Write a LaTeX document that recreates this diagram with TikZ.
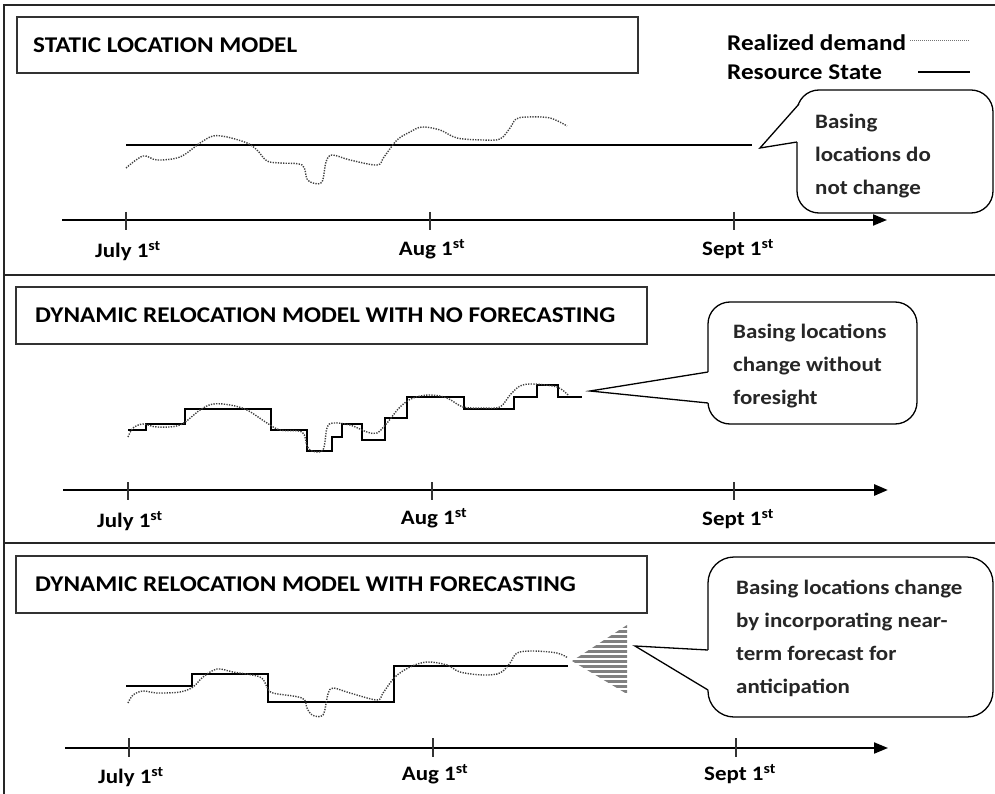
\documentclass[tikz,border=0pt]{standalone}
\usepackage{fontspec}
\setmainfont{Carlito}[FakeStretch=1.12]
\usetikzlibrary{arrows.meta}

\tikzset{
  frameline/.style={line width=1.4pt, black!85},
  titlebox/.style={draw=black!80, line width=1.3pt, fill=white},
  titletext/.style={anchor=west, inner sep=0pt, font=\bfseries\fontsize{22.5}{26}\selectfont},
  timeaxis/.style={line width=2pt, -{Triangle[length=14pt,width=11pt]}},
  timetick/.style={line width=1.2pt, black!80},
  datelabel/.style={inner sep=0pt, font=\bfseries\fontsize{20.5}{24}\selectfont},
  resource/.style={line width=1.5pt, black},
  demand/.style={line width=1.4pt, black!75, dash pattern=on 1.3pt off 1.3pt, line cap=butt},
  bubble/.style={draw=black, line width=1.3pt, fill=white},
  bubbletext/.style={anchor=west, inner sep=0pt, align=left,
    font=\bfseries\fontsize{20.5}{33}\selectfont, text=black!85},
  legendtext/.style={anchor=west, inner sep=0pt, font=\bfseries\fontsize{22.5}{26}\selectfont},
  hatch/.style={line width=2.4pt, black!50}
}

\newcommand{\dateon}[2]{#1~1\textsuperscript{#2}}

\begin{document}
\begin{tikzpicture}[x=1pt,y=-1pt]
\useasboundingbox (0,0) rectangle (995,794);
\fill[white] (0,0) rectangle (995,794);

% ---- panel frame ----
\coordinate (ftl) at (4,5);
\coordinate (ftr) at (995,5);
\coordinate (fbl) at (4,794);
\coordinate (d1l) at (4,275);
\coordinate (d1r) at (995,275);
\coordinate (d2l) at (4,543);
\coordinate (d2r) at (995,543);
\draw[frameline] (ftr) -- (ftl) -- (fbl);
\draw[frameline] (d1l) -- (d1r);
\draw[frameline] (d2l) -- (d2r);

% ---- legend ----
\node[legendtext] (lgd) at (727,43) {Realized demand};
\node[legendtext] (lgr) at (727,72) {Resource State};
\coordinate (lgda) at (910,41);
\coordinate (lgdb) at (970,41);
\coordinate (lgra) at (918,72);
\coordinate (lgrb) at (970,72);
\draw[demand, line width=1pt, black!55, dash pattern=on 1pt off 1pt] (lgda) -- (lgdb);
\draw[resource, line width=1.2pt] (lgra) -- (lgrb);

% =========================== panel 1 ===========================
\draw[titlebox] (17,17) rectangle (638,73);
\node[titletext] (t1) at (33,45) {STATIC LOCATION MODEL};

\coordinate (a1s) at (62,220);
\coordinate (a1e) at (887,220);
\draw[timeaxis] (a1s) -- (a1e);
\foreach \x in {126, 430, 734}
  \draw[timetick] (\x,212) -- (\x,230);
\node[datelabel] (j1) at (128,251) {\dateon{July}{st}};
\node[datelabel] (u1) at (432,249) {\dateon{Aug}{st}};
\node[datelabel] (s1) at (738,249) {\dateon{Sept}{st}};

% constant resource state
\coordinate (r1s) at (126,145);
\coordinate (r1e) at (752,145);
\draw[resource] (r1s) -- (r1e);

% realized demand
\draw[demand] plot[smooth, tension=0.55] coordinates {
 (126,168) (143,156) (157,160) (180,157) (200,143) (213,136) (227,137)
 (247,143) (257,150) (267,161) (280,163) (302,165) (307,179) (313,183)
 (322,182) (326,162) (332,155) (350,160) (377,165) (384,157) (397,140)
 (410,132) (422,127) (440,130) (457,138) (483,140) (500,139) (510,128)
 (516,119) (527,117) (550,118) (567,126)};

% callout
\draw[bubble, rounded corners=22pt] (797,90) rectangle (993,213);
\coordinate (p1tip) at (760,148);
\coordinate (p1a) at (799,104);
\coordinate (p1b) at (797,142);
\fill[white] (p1tip) -- (p1a) -- ([xshift=2pt]p1a) -- ([xshift=2pt]p1b) -- (p1b) -- cycle;
\draw[bubble, fill=none, line join=miter] (p1a) -- (p1tip) -- (p1b);
\node[bubbletext] (c1) at (815,156) {Basing\\locations do\\not change};

% =========================== panel 2 ===========================
\draw[titlebox] (16,287) rectangle (647,344);
\node[titletext] (t2) at (35,315) {DYNAMIC RELOCATION MODEL WITH NO FORECASTING};

\coordinate (a2s) at (63,490);
\coordinate (a2e) at (888,490);
\draw[timeaxis, line width=2.8pt] (a2s) -- (a2e);
\foreach \x in {128, 432, 734}
  \draw[timetick] (\x,482) -- (\x,500);
\node[datelabel] (j2) at (130,521) {\dateon{July}{st}};
\node[datelabel] (u2) at (434,518) {\dateon{Aug}{st}};
\node[datelabel] (s2) at (738,519) {\dateon{Sept}{st}};

% stepwise resource state following the demand
\draw[resource, line width=1.7pt] (128,430) -- (146,430) -- (146,424) -- (185,424)
 -- (185,409) -- (271,409) -- (271,430) -- (307,430) -- (307,451) -- (332,451)
 -- (332,437) -- (342,437) -- (342,424) -- (362,424) -- (362,440) -- (385,440)
 -- (385,418) -- (407,418) -- (407,397) -- (464,397) -- (464,409) -- (514,409)
 -- (514,397) -- (537,397) -- (537,385) -- (558,385) -- (558,397) -- (582,397);

\draw[demand] plot[smooth, tension=0.55] coordinates {
 (128,437) (133,428) (143,424) (157,427) (180,425) (200,410) (213,404) (230,405)
 (247,410) (267,423) (280,430) (302,432) (307,446) (312,451) (323,450)
 (327,428) (333,423) (350,425) (367,432) (377,433) (387,423) (400,407)
 (413,398) (430,395) (447,398) (463,407) (483,408) (500,407) (510,395)
 (520,386) (533,384) (557,387) (568,395)};

% callout
\draw[bubble, rounded corners=22pt] (708,302) rectangle (917,424);
\coordinate (p2tip) at (590,391);
\coordinate (p2a) at (708,372);
\coordinate (p2b) at (708,403);
\fill[white] (p2tip) -- (p2a) -- ([xshift=2pt]p2a) -- ([xshift=2pt]p2b) -- (p2b) -- cycle;
\draw[bubble, fill=none, line join=miter] (p2a) -- (p2tip) -- (p2b);
\node[bubbletext] (c2) at (733,366) {Basing locations\\change without\\foresight};

% =========================== panel 3 ===========================
\draw[titlebox] (16,556) rectangle (647,613);
\node[titletext] (t3) at (35,584) {DYNAMIC RELOCATION MODEL WITH FORECASTING};

\coordinate (a3s) at (65,748);
\coordinate (a3e) at (888,748);
\draw[timeaxis] (a3s) -- (a3e);
\foreach \x in {129, 433, 736}
  \draw[timetick] (\x,738) -- (\x,757);
\node[datelabel] (j3) at (131,777) {\dateon{July}{st}};
\node[datelabel] (u3) at (435,774) {\dateon{Aug}{st}};
\node[datelabel] (s3) at (740,774) {\dateon{Sept}{st}};

% resource state moved ahead of demand
\draw[resource] (126,686) -- (192,686) -- (192,674) -- (268,674) -- (268,702)
 -- (394,702) -- (394,666) -- (568,666);

\draw[demand] plot[smooth, tension=0.55] coordinates {
 (128,703) (133,695) (143,691) (157,693) (180,692) (193,687) (203,677)
 (217,669) (233,672) (260,677) (267,687) (273,693) (302,698) (307,708)
 (312,715) (323,715) (328,694) (333,688) (350,693) (377,700) (383,693)
 (395,677) (410,667) (427,662) (447,665) (460,672) (483,675) (500,673)
 (510,663) (517,653) (533,651) (557,653) (568,658)};

% forecast horizon wedge
\coordinate (fwtip) at (572,661);
\coordinate (fwtop) at (627,625);
\coordinate (fwbot) at (627,694);
\begin{scope}
  \clip (fwtip) -- (fwtop) -- (fwbot) -- cycle;
  \foreach \yy in {626.5,631.5,...,695}
    \draw[hatch] (565,\yy) -- (630,\yy);
\end{scope}

% callout
\draw[bubble, rounded corners=26pt] (708,557) rectangle (993,717);
\coordinate (p3tip) at (635,646);
\coordinate (p3a) at (708,650);
\coordinate (p3b) at (708,690);
\fill[white] (p3tip) -- (p3a) -- ([xshift=2pt]p3a) -- ([xshift=2pt]p3b) -- (p3b) -- cycle;
\draw[bubble, fill=none, line join=miter] (p3a) -- (p3tip) -- (p3b);
\node[bubbletext] (c3) at (736,638) {Basing locations change\\by incorporating near-\\term forecast for\\anticipation};

\end{tikzpicture}
\end{document}
